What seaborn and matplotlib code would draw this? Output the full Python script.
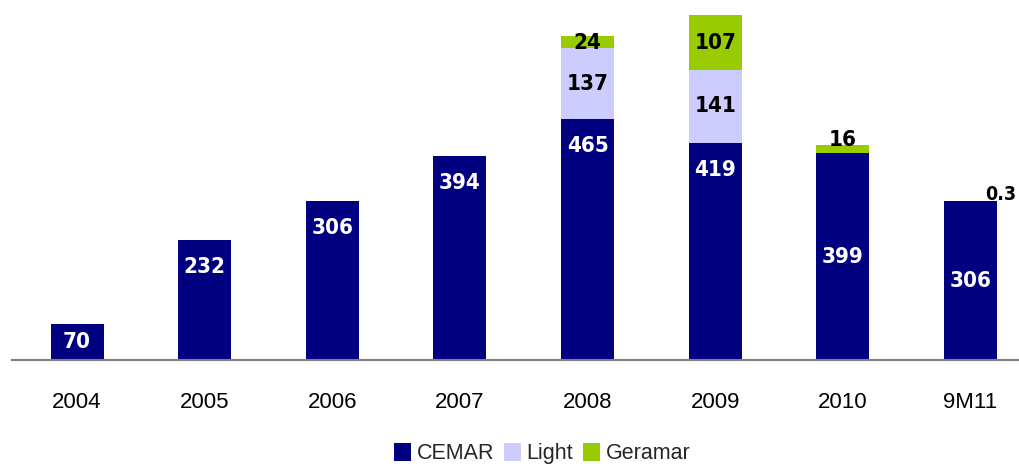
import matplotlib
matplotlib.use("Agg")
import matplotlib.pyplot as plt
from matplotlib.patches import Patch
from matplotlib import font_manager
import seaborn as sns
import pandas as pd
import numpy as np

# ──────────────────────────────────────────────
# DATA
# ──────────────────────────────────────────────
years   = ["2004", "2005", "2006", "2007", "2008", "2009", "2010", "9M11"]
cemar   = [70, 232, 306, 394, 465, 419, 399, 306]
light   = [0, 0, 0, 0, 137, 141, 0, 0]
geramar = [0, 0, 0, 0, 24, 107, 16, 0.3]

series = ["CEMAR", "Light", "Geramar"]
colors = {"CEMAR": "#000080", "Light": "#CCCCFF", "Geramar": "#99CC00"}

sns.set_theme(style="white")
plt.rcParams["font.family"] = ["Liberation Sans", "DejaVu Sans"]

# a condensed bold face for the value labels, if one is around
names = {f.name for f in font_manager.fontManager.ttflist}
if "Liberation Sans Narrow" in names:
    NARROW = dict(family=["Liberation Sans Narrow"], fontsize=17)
else:
    NARROW = dict(family=["DejaVu Sans"], fontstretch="condensed", fontsize=16)

df = pd.DataFrame({"year": years, "CEMAR": cemar, "Light": light, "Geramar": geramar})

fig = plt.figure(figsize=(10.19, 4.66), dpi=100)
ax = fig.add_axes([12 / 1019, 106 / 466, 1 - 12 / 1019, 360 / 466])

# stacked bars: draw cumulative totals, tallest first so the lower parts sit on top
cum = df[series].cumsum(axis=1)
for s in reversed(series):
    sns.barplot(x=np.arange(len(years)), y=cum[s], color=colors[s], saturation=1,
                width=0.415, ax=ax, native_scale=True, linewidth=0)

ax.set_xlim(-0.51, 7.38)
ax.set_ylim(0, 695)
ax.set_xticks(range(len(years)))
ax.set_xticklabels(years, fontsize=16, color="black")
ax.tick_params(axis="x", length=0, pad=23)
ax.set_yticks([])
ax.set_xlabel("")
ax.set_ylabel("")
for sp in ["top", "right", "left"]:
    ax.spines[sp].set_visible(False)
ax.spines["bottom"].set_color("#808080")
ax.spines["bottom"].set_linewidth(1.5)

# value labels
lab_kw = dict(ha="center", va="center", fontweight="bold", **NARROW)
top_style = [False, True, True, True, True, True, False, False]
for i in range(len(years)):
    c, l, g = cemar[i], light[i], geramar[i]
    ytxt = c - 52 if top_style[i] else c / 2
    ax.text(i, ytxt, f"{c}", color="white", **lab_kw)
    if l:
        ax.text(i, c + l / 2, f"{l}", color="black", **lab_kw)
    if g >= 20:
        ax.text(i, c + l + g / 2 - 2, f"{g}", color="black", **lab_kw)
    elif g >= 1:
        ax.text(i, c + l + g + 10, f"{g}", color="black", **lab_kw)
    elif g > 0:
        # tiny slice: label sits right of the bar, pinned inside the figure edge
        ax.annotate(f"{g}", xy=(1 - 3 / 1019, c + l + 14),
                    xycoords=("figure fraction", "data"), color="black",
                    annotation_clip=False, **{**lab_kw, "ha": "right", "fontsize": 14})

handles = [Patch(facecolor=colors[s], edgecolor="none", label=s) for s in series]
fig.legend(handles=handles, loc="center", bbox_to_anchor=(0.532, 0.026), ncol=3,
           frameon=False, fontsize=15.5, handlelength=0.8, handleheight=0.85,
           handletextpad=0.25, columnspacing=0.45, borderaxespad=0)

fig.savefig("out.png", dpi=100, facecolor="white")
